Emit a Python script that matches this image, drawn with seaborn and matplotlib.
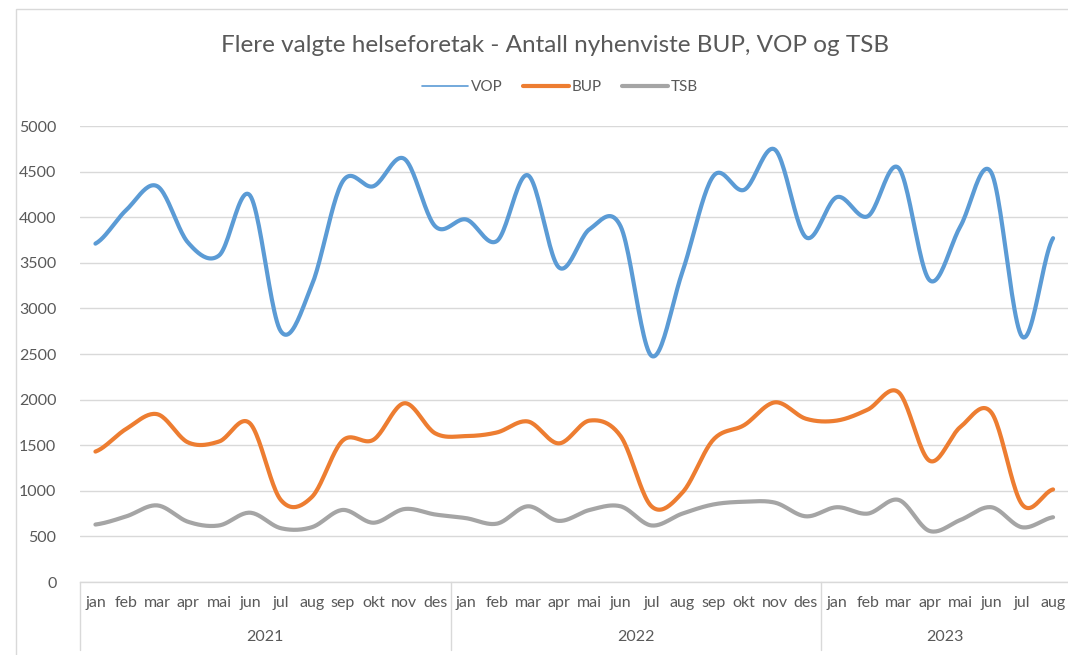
import numpy as np
import pandas as pd
import matplotlib
matplotlib.use("Agg")
import matplotlib.pyplot as plt
import matplotlib.transforms as mtransforms
from matplotlib.lines import Line2D
from matplotlib.patches import Rectangle
import seaborn as sns

# ---------------- data ----------------
months = ["jan", "feb", "mar", "apr", "mai", "jun", "jul", "aug", "sep", "okt", "nov", "des"]
years = ["2021", "2022", "2023"]
month_labels = months * 2 + months[:8]

vop = [3710, 4080, 4340, 3720, 3580, 4240, 2750, 3250, 4390, 4340, 4640, 3900,
       3975, 3740, 4460, 3450, 3870, 3900, 2480, 3400, 4450, 4300, 4740, 3780,
       4220, 4010, 4540, 3310, 3900, 4490, 2690, 3770]
bup = [1430, 1680, 1840, 1530, 1540, 1740, 900, 930, 1550, 1560, 1960, 1630,
       1600, 1640, 1760, 1520, 1770, 1600, 830, 980, 1560, 1720, 1970, 1790,
       1770, 1890, 2080, 1330, 1700, 1860, 850, 1015]
tsb = [630, 720, 840, 660, 620, 760, 590, 600, 790, 650, 800, 740,
       700, 640, 830, 670, 790, 830, 620, 750, 850, 880, 870, 720,
       820, 750, 900, 560, 680, 820, 600, 710]

series_names = ["VOP", "BUP", "TSB"]
colors = {"VOP": "#5B9BD5", "BUP": "#ED7D31", "TSB": "#A5A5A5"}
text_color = "#595959"
grid_color = "#D9D9D9"


def smooth_curve(values, n=24):
    """Excel-like smoothed line (Catmull-Rom through the data points)."""
    y = np.asarray(values, float)
    p = np.concatenate([[y[0]], y, [y[-1]]])
    xs, ys = [], []
    t = np.linspace(0, 1, n, endpoint=False)
    for i in range(len(y) - 1):
        p0, p1, p2, p3 = p[i], p[i + 1], p[i + 2], p[i + 3]
        m1 = (p2 - p0) / 2.0
        m2 = (p3 - p1) / 2.0
        h00 = 2 * t**3 - 3 * t**2 + 1
        h10 = t**3 - 2 * t**2 + t
        h01 = -2 * t**3 + 3 * t**2
        h11 = t**3 - t**2
        xs.append(i + t)
        ys.append(h00 * p1 + h10 * m1 + h01 * p2 + h11 * m2)
    xs.append([len(y) - 1])
    ys.append([y[-1]])
    return np.concatenate(xs), np.concatenate(ys)


frames = []
for name, vals in zip(series_names, [vop, bup, tsb]):
    sx, sy = smooth_curve(vals)
    frames.append(pd.DataFrame({"x": sx, "value": sy, "serie": name}))
df = pd.concat(frames, ignore_index=True)

# ---------------- figure ----------------
sns.set_theme(style="white")
plt.rcParams["font.family"] = ["Lato", "DejaVu Sans"]

W, H = 1068, 655
fig = plt.figure(figsize=(W / 100, H / 100), dpi=100)
ax = fig.add_axes([80 / W, 1 - 582 / H, (1068.5 - 80) / W, (582 - 126) / H])

sns.lineplot(data=df, x="x", y="value", hue="serie", palette=colors,
             hue_order=series_names, sort=False, estimator=None,
             linewidth=3.0, ax=ax, legend=False)
for line in ax.get_lines():
    line.set_solid_capstyle("round")

ax.set_xlim(-0.5, len(month_labels) - 0.5)
ax.set_ylim(0, 5000)
ax.set_yticks(np.arange(0, 5001, 500))
ax.set_yticklabels([str(v) for v in range(0, 5001, 500)])
ax.yaxis.grid(True, color=grid_color, linewidth=1.0)
ax.set_axisbelow(True)
ax.set_xticks(range(len(month_labels)))
ax.set_xticklabels(month_labels)
ax.tick_params(axis="x", length=0, pad=10, labelsize=11.5, colors=text_color)
ax.tick_params(axis="y", length=0, pad=17, labelsize=11.5, colors=text_color)
ax.set_xlabel("")
ax.set_ylabel("")
for s in ["top", "right", "left"]:
    ax.spines[s].set_visible(False)
ax.spines["bottom"].set_color(grid_color)
ax.spines["bottom"].set_linewidth(1.0)

# year group labels and separators
trans = mtransforms.blended_transform_factory(ax.transData, ax.transAxes)
axis_h = 582 - 126
for xsep in [-0.5, 11.5, 23.5, 31.5]:
    ax.plot([xsep, xsep], [0, -(650 - 582) / axis_h], transform=trans,
            color=grid_color, linewidth=1.0, clip_on=False)
year_spans = [(0, 11), (12, 23), (24, 31)]
for yr, (a, b) in zip(years, year_spans):
    ax.text((a + b) / 2, -(637 - 582) / axis_h, yr, transform=trans,
            ha="center", va="center", fontsize=11.5, color=text_color)

# title
fig.text(555 / W, 1 - 45 / H, "Flere valgte helseforetak - Antall nyhenviste BUP, VOP og TSB",
         ha="center", va="center", fontsize=17.5, color=text_color, fontweight="normal")

# legend
handles = [Line2D([], [], color=colors["VOP"], linewidth=1.2),
           Line2D([], [], color=colors["BUP"], linewidth=3.0),
           Line2D([], [], color=colors["TSB"], linewidth=3.0)]
leg = fig.legend(handles, series_names, loc="center", bbox_to_anchor=(560 / W, 1 - 87 / H),
                 ncol=3, frameon=False, fontsize=11, handlelength=3.0,
                 handletextpad=0.2, columnspacing=1.3)
for t in leg.get_texts():
    t.set_color(text_color)

# chart area border
fig.patches.append(Rectangle((16 / W, -0.1), 1.2, (H - 9) / H + 0.1,
                             transform=fig.transFigure, fill=False,
                             edgecolor=grid_color, linewidth=1.0))

fig.savefig("out.png", dpi=100, facecolor="white")
